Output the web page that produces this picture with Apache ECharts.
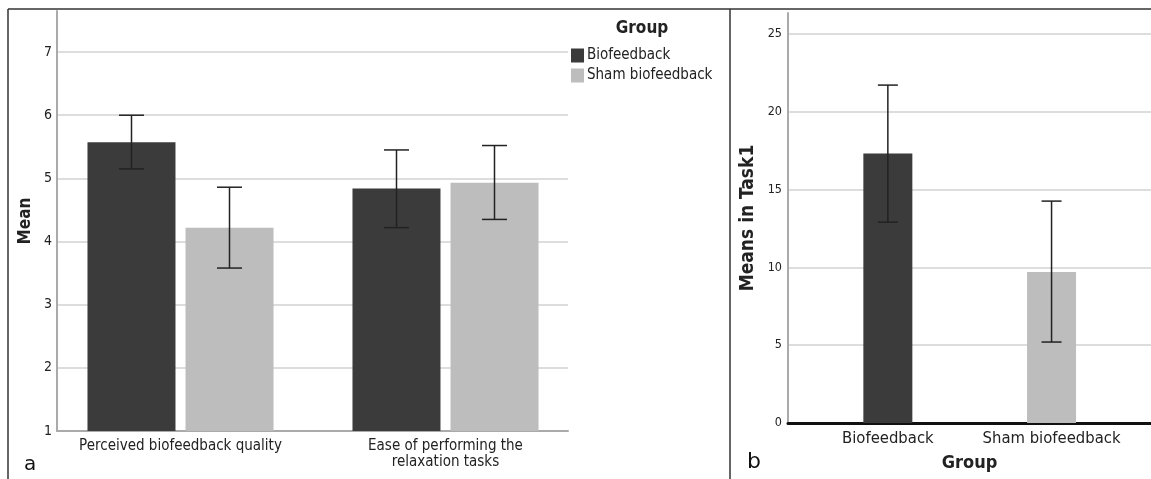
<!DOCTYPE html>
<html><head><meta charset="utf-8">
<script src="https://cdn.jsdelivr.net/npm/echarts@6/dist/echarts.min.js"></script>
<style>html,body{margin:0;padding:0;background:#fff}#c{width:1151px;height:479px}</style>
</head><body><div id="c"></div>
<script>
// Panel a data
const categoriesA = ['Perceived biofeedback quality', 'Ease of performing the\nrelaxation tasks'];
const bioMeans = [5.57, 4.84];
const bioLow = [5.15, 4.22];
const bioHigh = [6.00, 5.45];
const shamMeans = [4.22, 4.93];
const shamLow = [3.58, 4.35];
const shamHigh = [4.86, 5.52];
// Panel b data
const categoriesB = ['Biofeedback', 'Sham biofeedback'];
const task1Means = [17.3, 9.7];
const task1Low = [12.9, 5.2];
const task1High = [21.7, 14.25];

const DARK = '#3b3b3b', LIGHT = '#bdbdbd';
const FONT = '"DejaVu Sans Condensed", "DejaVu Sans", sans-serif';

function errData(lo, hi) { return lo.map((l, i) => [i, l, hi[i]]); }
function errRender(offset, half) {
  return function (params, api) {
    const c = api.value(0);
    const p1 = api.coord([c, api.value(1)]);
    const p2 = api.coord([c, api.value(2)]);
    const x = p1[0] + offset;
    const st = { stroke: '#222', lineWidth: 1.5 };
    return { type: 'group', children: [
      { type: 'line', shape: { x1: x, y1: p1[1], x2: x, y2: p2[1] }, style: st },
      { type: 'line', shape: { x1: x - half, y1: p1[1], x2: x + half, y2: p1[1] }, style: st },
      { type: 'line', shape: { x1: x - half, y1: p2[1], x2: x + half, y2: p2[1] }, style: st }
    ]};
  };
}

const chart = echarts.init(document.getElementById('c'), null, { renderer: 'canvas' });
const option = {
  animation: false,
  textStyle: { fontFamily: FONT },
  grid: [
    { left: 57, top: 11, width: 511, height: 420, outerBoundsMode: 'none', containLabel: false },
    { left: 48, top: 11, width: 530, height: 420, outerBoundsMode: 'none', containLabel: false },
    { left: 788, top: 13, width: 363, height: 410, outerBoundsMode: 'none', containLabel: false },
    { left: 806, top: 13, width: 327.4, height: 410, outerBoundsMode: 'none', containLabel: false }
  ],
  xAxis: [
    { gridIndex: 0, type: 'category', data: categoriesA, axisLabel: { show: false }, axisTick: { show: false },
      axisLine: { lineStyle: { color: '#aaa', width: 2 } } },
    { gridIndex: 1, type: 'category', data: categoriesA, axisTick: { show: false }, axisLine: { show: false },
      axisLabel: { interval: 0, margin: 7, fontSize: 15, lineHeight: 16, color: '#222', fontFamily: FONT } },
    { gridIndex: 2, type: 'category', data: categoriesB, axisLabel: { show: false }, axisTick: { show: false },
      axisLine: { lineStyle: { color: '#111', width: 3 } },
      name: 'Group', nameLocation: 'middle', nameGap: 31,
      nameTextStyle: { fontSize: 18, fontWeight: 'bold', color: '#222', fontFamily: FONT } },
    { gridIndex: 3, type: 'category', data: categoriesB, axisTick: { show: false }, axisLine: { show: false },
      axisLabel: { interval: 0, margin: 7, fontSize: 16.5, lineHeight: 18, color: '#222', fontFamily: FONT } }
  ],
  yAxis: [
    { gridIndex: 0, type: 'value', min: 1, max: 7.65, interval: 1,
      axisLine: { show: true, lineStyle: { color: '#aaa', width: 2 } }, axisTick: { show: false },
      axisLabel: { fontSize: 14, color: '#222', margin: 5, showMaxLabel: false, fontFamily: FONT },
      splitLine: { lineStyle: { color: '#d2d2d2', width: 1.5 }, showMaxLine: false, showMinLine: false },
      name: 'Mean', nameLocation: 'middle', nameGap: 23,
      nameTextStyle: { fontSize: 17, fontWeight: 'bold', color: '#222', fontFamily: FONT } },
    { gridIndex: 1, type: 'value', min: 1, max: 7.65, show: false },
    { gridIndex: 2, type: 'value', min: 0, max: 26.33, interval: 5,
      axisLine: { show: true, lineStyle: { color: '#aaa', width: 2 } }, axisTick: { show: false },
      axisLabel: { fontSize: 12.5, color: '#222', margin: 6, showMaxLabel: false, fontFamily: FONT },
      splitLine: { lineStyle: { color: '#d2d2d2', width: 1.5 }, showMaxLine: false, showMinLine: false },
      name: 'Means in Task1', nameLocation: 'middle', nameGap: 30,
      nameTextStyle: { fontSize: 19, fontWeight: 'bold', color: '#222', fontFamily: FONT } },
    { gridIndex: 3, type: 'value', min: 0, max: 26.33, show: false }
  ],
  legend: {
    data: ['Biofeedback', 'Sham biofeedback'], orient: 'vertical', left: 571, top: 48, padding: 0,
    icon: 'rect', itemWidth: 13, itemHeight: 14, itemGap: 5, selectedMode: false,
    textStyle: { fontSize: 15, lineHeight: 14, color: '#222', fontFamily: FONT, padding: [0, 0, 0, -2] }
  },
  series: [
    { name: 'Biofeedback', type: 'bar', xAxisIndex: 1, yAxisIndex: 1, data: bioMeans,
      barWidth: 88, barGap: '11.4%', itemStyle: { color: DARK } },
    { name: 'Sham biofeedback', type: 'bar', xAxisIndex: 1, yAxisIndex: 1, data: shamMeans,
      barWidth: 88, barGap: '11.4%', itemStyle: { color: LIGHT } },
    { name: 'errBio', type: 'custom', xAxisIndex: 1, yAxisIndex: 1, data: errData(bioLow, bioHigh),
      encode: { x: 0, y: [1, 2] }, renderItem: errRender(-49, 12.5), z: 5 },
    { name: 'errSham', type: 'custom', xAxisIndex: 1, yAxisIndex: 1, data: errData(shamLow, shamHigh),
      encode: { x: 0, y: [1, 2] }, renderItem: errRender(49, 12.5), z: 5 },
    { name: 'Task1', type: 'bar', xAxisIndex: 3, yAxisIndex: 3, barWidth: 49,
      data: task1Means.map((v, i) => ({ value: v, itemStyle: { color: i === 0 ? DARK : LIGHT } })) },
    { name: 'errTask1', type: 'custom', xAxisIndex: 3, yAxisIndex: 3, data: errData(task1Low, task1High),
      encode: { x: 0, y: [1, 2] }, renderItem: errRender(0, 10), z: 5 }
  ],
  graphic: [
    { type: 'line', shape: { x1: 8, y1: 9, x2: 1151, y2: 9 }, style: { stroke: '#333', lineWidth: 1.5 } },
    { type: 'line', shape: { x1: 8, y1: 9, x2: 8, y2: 479 }, style: { stroke: '#333', lineWidth: 1.5 } },
    { type: 'line', shape: { x1: 730, y1: 9, x2: 730, y2: 479 }, style: { stroke: '#333', lineWidth: 1.5 } },
    { type: 'text', x: 642, y: 29, style: { text: 'Group', font: 'bold 17px "DejaVu Sans Condensed", "DejaVu Sans"', fill: '#222', textAlign: 'center', textVerticalAlign: 'middle' } },
    { type: 'text', x: 24, y: 465, style: { text: 'a', font: '20px "DejaVu Sans"', fill: '#111', textAlign: 'left', textVerticalAlign: 'middle' } },
    { type: 'text', x: 747, y: 462, style: { text: 'b', font: '22px "DejaVu Sans"', fill: '#111', textAlign: 'left', textVerticalAlign: 'middle' } }
  ]
};
chart.setOption(option);
</script></body></html>
